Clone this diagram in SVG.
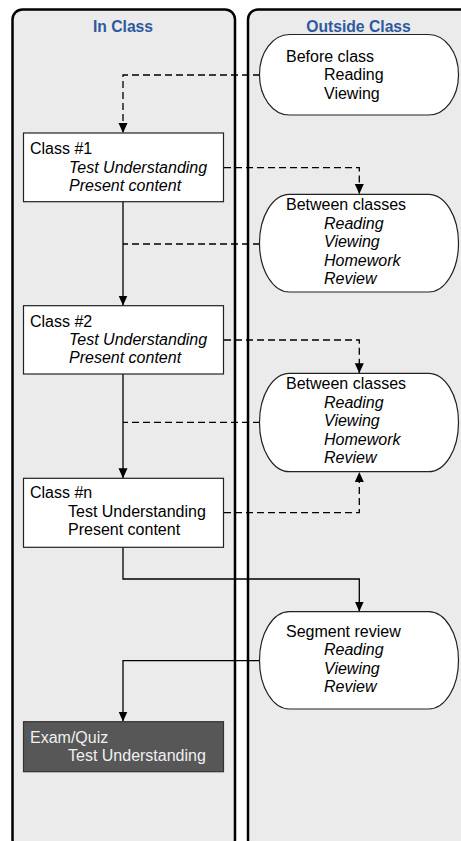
<svg xmlns="http://www.w3.org/2000/svg" width="461" height="841" viewBox="0 0 461 841">
<defs>
<style>
.panel{fill:#ebebeb;stroke:#000;stroke-width:2.5}
.title{font-family:"Liberation Sans",Arial,sans-serif;font-weight:bold;font-size:15.7px;fill:#2d5a9e;text-anchor:middle}
.box{fill:#fff;stroke:#222;stroke-width:1.2}
.dark{fill:#575757;stroke:#333;stroke-width:1.2}
.pill{fill:#fff;stroke:#222;stroke-width:1.2}
.t{font-family:"Liberation Sans",Arial,sans-serif;font-size:16px;fill:#000}
.i{font-style:italic}
.w{fill:#f0f0f0}
.solid{fill:none;stroke:#000;stroke-width:1.3}
.dash{fill:none;stroke:#000;stroke-width:1.3;stroke-dasharray:7,4}
</style>
<marker id="arr" viewBox="0 0 10 10" refX="10" refY="5" markerWidth="10" markerHeight="10" markerUnits="userSpaceOnUse" orient="auto">
<path d="M0,0.5 L10,5 L0,9.5 Z" fill="#000"/>
</marker>
</defs>
<rect width="461" height="841" fill="#fff"/>
<g id="panels">
<rect class="panel" x="12.5" y="9.5" width="222.5" height="840" rx="10" ry="10"/>
<rect class="panel" x="248" y="9.5" width="230" height="840" rx="10" ry="10"/>
<text class="title" x="123" y="31.5">In Class</text>
<text class="title" x="358.5" y="31.5">Outside Class</text>
</g>
<g id="connectors">
<path class="dash" d="M260,75 H123 V133" marker-end="url(#arr)"/>
<path class="dash" d="M224,167.7 H359.3 V194" marker-end="url(#arr)"/>
<path class="dash" d="M260,244 H123"/>
<path class="solid" d="M123,202 V305.5" marker-end="url(#arr)"/>
<path class="dash" d="M224,340 H359.3 V373.3" marker-end="url(#arr)"/>
<path class="dash" d="M260,422.3 H123"/>
<path class="solid" d="M123,374 V478.3" marker-end="url(#arr)"/>
<path class="dash" d="M224,512.7 H359.3 V472" marker-end="url(#arr)"/>
<path class="solid" d="M123,547.3 V579 H359.3 V611.5" marker-end="url(#arr)"/>
<path class="solid" d="M260,660.7 H123 V721.5" marker-end="url(#arr)"/>
</g>
<g id="before-class">
<rect class="pill" x="259.5" y="34.5" width="199" height="80.5" rx="30" ry="40"/>
<text class="t" x="286" y="61.5">Before class</text>
<text class="t" x="324" y="80">Reading</text>
<text class="t" x="324" y="98.5">Viewing</text>
</g>
<g id="class1">
<rect class="box" x="23.5" y="133" width="200" height="68.7"/>
<text class="t" x="30" y="154">Class #1</text>
<text class="t i" x="69" y="172.7">Test Understanding</text>
<text class="t i" x="69" y="191">Present content</text>
</g>
<g id="between1">
<rect class="pill" x="259.5" y="194.3" width="199" height="97.7" rx="30" ry="48.8"/>
<text class="t" x="286" y="210.3">Between classes</text>
<text class="t i" x="324" y="228.7">Reading</text>
<text class="t i" x="324" y="247">Viewing</text>
<text class="t i" x="324" y="265.7">Homework</text>
<text class="t i" x="324" y="284">Review</text>
</g>
<g id="class2">
<rect class="box" x="23.5" y="305.7" width="200" height="68.3"/>
<text class="t" x="30" y="326.7">Class #2</text>
<text class="t i" x="69" y="345">Test Understanding</text>
<text class="t i" x="69" y="363.3">Present content</text>
</g>
<g id="between2">
<rect class="pill" x="259.5" y="373.3" width="199" height="98.4" rx="30" ry="49"/>
<text class="t" x="286" y="389.3">Between classes</text>
<text class="t i" x="324" y="407.7">Reading</text>
<text class="t i" x="324" y="426">Viewing</text>
<text class="t i" x="324" y="444.7">Homework</text>
<text class="t i" x="324" y="463">Review</text>
</g>
<g id="classn">
<rect class="box" x="23.5" y="478.3" width="200" height="69"/>
<text class="t" x="30" y="498.3">Class #n</text>
<text class="t" x="68" y="517">Test Understanding</text>
<text class="t" x="68" y="535.3">Present content</text>
</g>
<g id="segment-review">
<rect class="pill" x="259.5" y="611.7" width="199" height="97.3" rx="30" ry="48.6"/>
<text class="t" x="286" y="637">Segment review</text>
<text class="t i" x="324" y="655.3">Reading</text>
<text class="t i" x="324" y="673.7">Viewing</text>
<text class="t i" x="324" y="692">Review</text>
</g>
<g id="exam">
<rect class="dark" x="23.5" y="721.7" width="200" height="50"/>
<text class="t w" x="30" y="742.5">Exam/Quiz</text>
<text class="t w" x="68" y="761">Test Understanding</text>
</g>
</svg>
